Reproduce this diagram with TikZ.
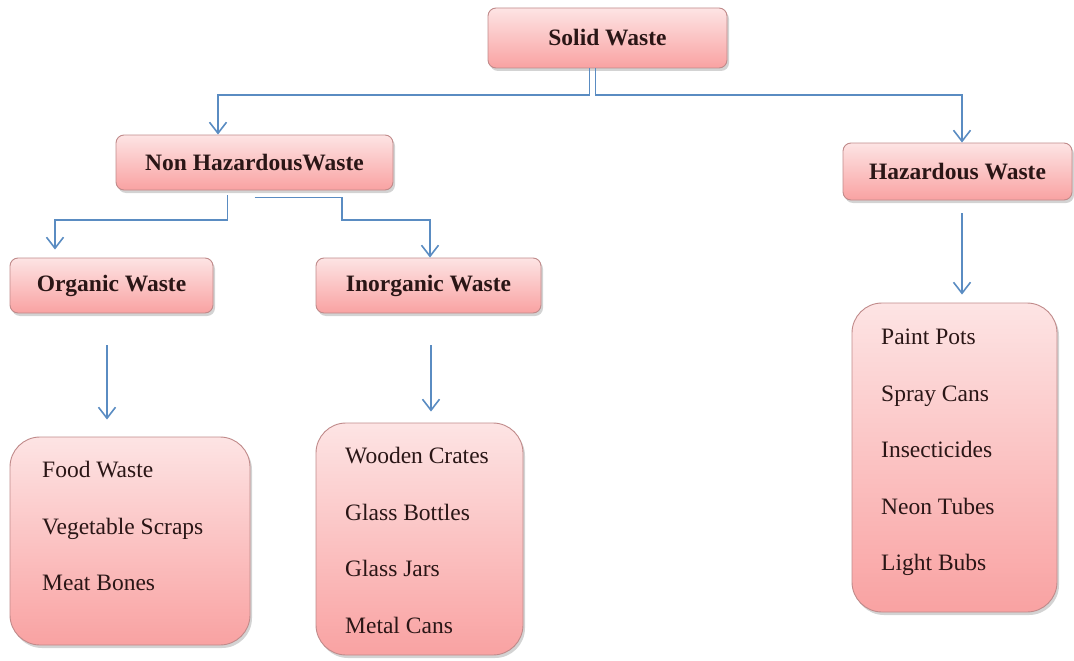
\documentclass[tikz,border=0pt]{standalone}
\usepackage{fontspec}
\setmainfont{Liberation Serif}
\usetikzlibrary{arrows.meta,shadows}
\definecolor{boxtop}{HTML}{FDE4E4}
\definecolor{boxbot}{HTML}{F9A2A2}
\definecolor{boxline}{HTML}{C08A8A}
\definecolor{conncol}{HTML}{5A8CC2}
\definecolor{txt}{HTML}{2A1616}
\tikzset{
  head/.style={draw=boxline, line width=0.9pt, rounded corners=8pt,
    top color=boxtop, bottom color=boxbot, text=txt,
    font=\fontsize{23.5}{28}\selectfont\bfseries,
    drop shadow={shadow xshift=2pt, shadow yshift=-3pt, opacity=0.35, fill=gray}},
  listbox/.style={draw=boxline, line width=0.9pt, rounded corners=30pt,
    top color=boxtop, bottom color=boxbot,
    drop shadow={shadow xshift=2pt, shadow yshift=-3pt, opacity=0.35, fill=gray}},
  listtext/.style={anchor=north west, align=left, text=txt, inner sep=0pt,
    font=\fontsize{23.5}{56.5}\selectfont},
  conn/.style={draw=conncol, line width=1.6pt,
    -{Straight Barb[length=11pt,width=17pt,line width=1.6pt]}}
}
\begin{document}
\begin{tikzpicture}[x=1pt,y=-1pt]
\useasboundingbox (0,0) rectangle (1074,661);
% header boxes
\node[head, minimum width=239pt, minimum height=60pt] (sw) at (607.5,38) {Solid Waste};
\node[head, minimum width=277pt, minimum height=55pt] (nh) at (254.5,162.5) {Non HazardousWaste};
\node[head, minimum width=229pt, minimum height=57pt] (hz) at (957.5,171.5) {Hazardous Waste};
\node[head, minimum width=203pt, minimum height=55pt] (org) at (111.5,285.5) {Organic Waste};
\node[head, minimum width=225pt, minimum height=55pt] (in) at (428.5,285.5) {Inorganic Waste};
% list boxes
\node[listbox, minimum width=240pt, minimum height=208pt] (food) at (130,541) {};
\node[listbox, minimum width=207pt, minimum height=232pt] (inl) at (419.5,539) {};
\node[listbox, minimum width=205pt, minimum height=309pt] (hzl) at (954.5,457.5) {};
\node[listtext] (foodt) at (42,461) {Food Waste\\Vegetable Scraps\\Meat Bones};
\node[listtext] (inlt) at (345,447) {Wooden Crates\\Glass Bottles\\Glass Jars\\Metal Cans};
\node[listtext] (hzlt) at (881,329) {Paint Pots\\Spray Cans\\Insecticides\\Neon Tubes\\Light Bubs};
% bend points
\coordinate (b1) at (218,95);
\coordinate (b2) at (962,95);
\coordinate (b3) at (55,220);
\coordinate (b4) at (342,220);
% connectors
\draw[conn] ([xshift=-18pt]sw.south) |- (b1) -- ([xshift=-36.5pt]nh.north);
\draw[conn] ([xshift=-12pt]sw.south) |- (b2) -- ([xshift=4.5pt]hz.north);
\draw[conn, shorten >=8pt] ([xshift=-27pt,yshift=-5pt]nh.south) |- (b3) -- ([xshift=-56.5pt]org.north);
\draw[conn] ([yshift=-7pt]nh.south) -| (b4) -| ([xshift=1.5pt]in.north);
\draw[conn, shorten <=32pt, shorten >=17pt] ([xshift=-4.5pt]org.south) -- ([xshift=-23pt]food.north);
\draw[conn, shorten <=32pt, shorten >=11pt] ([xshift=2.5pt]in.south) -- ([xshift=11.5pt]inl.north);
\draw[conn, shorten <=13pt, shorten >=8pt] ([xshift=4.5pt]hz.south) -- ([xshift=7.5pt]hzl.north);
\end{tikzpicture}
\end{document}
